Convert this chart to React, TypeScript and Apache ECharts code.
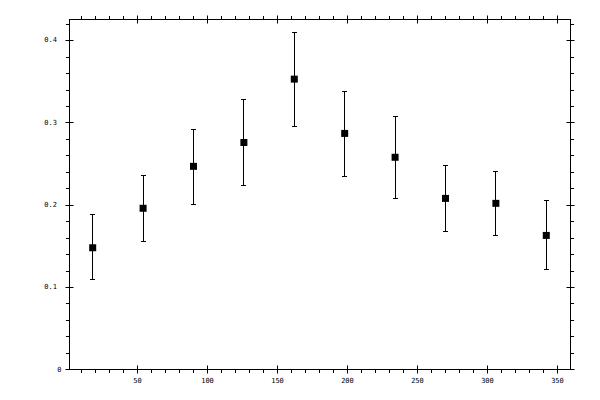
import { useEffect, useRef } from "react";
import * as echarts from "echarts";

const xValues = [18, 54, 90, 126, 162, 198, 234, 270, 306, 342];
const yValues = [0.148, 0.196, 0.247, 0.276, 0.353, 0.287, 0.258, 0.208, 0.202, 0.163];
const yLow = [0.109, 0.156, 0.201, 0.224, 0.296, 0.235, 0.208, 0.168, 0.163, 0.121];
const yHigh = [0.189, 0.236, 0.292, 0.328, 0.41, 0.338, 0.308, 0.248, 0.241, 0.206];

const xTickValues = [50, 100, 150, 200, 250, 300, 350];
const yTickValues = [0, 0.1, 0.2, 0.3, 0.4];

const X_MIN = 1.43;
const X_MAX = 359.3;
const Y_MIN = 0;
const Y_MAX = 0.4255;

const INK = "#000000";
const FONT = "DejaVu Sans Mono";
const CAP = 2.5;

const line = { color: INK, width: 1 };

// one axis = outer ticks + minor ticks (grid 0), the other half of the major
// ticks points inward (grid 1) so the major ticks cross the frame
function xAxisOf(gridIndex: number, position: "top" | "bottom", inner: boolean, labels: boolean) {
  return {
    type: "value",
    gridIndex,
    position,
    min: X_MIN,
    max: X_MAX,
    splitNumber: 7,
    axisLine: { show: !inner, onZero: false, lineStyle: line },
    axisTick: { show: true, inside: inner, length: 4, customValues: xTickValues, lineStyle: line },
    minorTick: { show: !inner, splitNumber: 5, length: 3.5, lineStyle: line },
    axisLabel: {
      show: labels,
      customValues: xTickValues,
      margin: 8,
      fontFamily: FONT,
      fontSize: 7,
      color: INK,
    },
    splitLine: { show: false },
    minorSplitLine: { show: false },
  };
}

function yAxisOf(gridIndex: number, position: "left" | "right", inner: boolean, labels: boolean) {
  return {
    type: "value",
    gridIndex,
    position,
    min: Y_MIN,
    max: Y_MAX,
    splitNumber: 4,
    axisLine: { show: !inner, onZero: false, lineStyle: line },
    axisTick: { show: true, inside: inner, length: 4, customValues: yTickValues, lineStyle: line },
    minorTick: { show: !inner, splitNumber: 5, length: 3.5, lineStyle: line },
    axisLabel: {
      show: labels,
      customValues: yTickValues,
      margin: 8,
      fontFamily: FONT,
      fontSize: 7,
      color: INK,
      // "0" sits a bit further right than the decimal labels in the original
      formatter: (v: number) => (v === 0 ? "{z|0}" : `{n|${v}}`),
      rich: {
        z: { fontFamily: FONT, fontSize: 7, color: INK },
        n: { fontFamily: FONT, fontSize: 7, color: INK, padding: [0, 4.5, 0, 0] },
      },
    },
    splitLine: { show: false },
    minorSplitLine: { show: false },
  };
}

const crisp = (v: number) => Math.round(v - 0.5) + 0.5;

function buildOption(): echarts.EChartsOption {
  const gridBox = { left: 69.5, right: 29.5, top: 19.5, bottom: 30.5, outerBoundsMode: "none" };
  return {
    animation: false,
    backgroundColor: "#ffffff",
    grid: [gridBox, gridBox],
    xAxis: [
      xAxisOf(0, "bottom", false, true),
      xAxisOf(0, "top", false, false),
      xAxisOf(1, "bottom", true, false),
      xAxisOf(1, "top", true, false),
    ],
    yAxis: [
      yAxisOf(0, "left", false, true),
      yAxisOf(0, "right", false, false),
      yAxisOf(1, "left", true, false),
      yAxisOf(1, "right", true, false),
    ],
    series: [
      {
        type: "custom",
        xAxisIndex: 0,
        yAxisIndex: 0,
        encode: { x: 0, y: [1, 2] },
        data: xValues.map((x, i) => [x, yLow[i], yHigh[i]]),
        renderItem: (_params: unknown, api: any) => {
          const x = api.value(0);
          const top = api.coord([x, api.value(2)]);
          const bot = api.coord([x, api.value(1)]);
          const cx = crisp(top[0]);
          const yt = crisp(top[1]);
          const yb = crisp(bot[1]);
          const style = { stroke: INK, lineWidth: 1, fill: "none" };
          return {
            type: "group",
            children: [
              { type: "line", shape: { x1: cx, y1: yt, x2: cx, y2: yb }, style },
              { type: "line", shape: { x1: cx - CAP, y1: yt, x2: cx + CAP, y2: yt }, style },
              { type: "line", shape: { x1: cx - CAP, y1: yb, x2: cx + CAP, y2: yb }, style },
            ],
          };
        },
        z: 1,
      },
      {
        type: "scatter",
        xAxisIndex: 0,
        yAxisIndex: 0,
        symbol: "rect",
        symbolSize: 7,
        itemStyle: { color: INK, opacity: 1 },
        data: xValues.map((x, i) => [x, yValues[i]]),
        z: 2,
      },
    ],
  } as echarts.EChartsOption;
}

export default function App() {
  const containerRef = useRef<HTMLDivElement | null>(null);

  useEffect(() => {
    document.body.style.margin = "0";
    const el = containerRef.current;
    if (!el) return;
    const chart = echarts.init(el, undefined, { renderer: "svg" });
    chart.setOption(buildOption());
    return () => {
      chart.dispose();
    };
  }, []);

  return <div ref={containerRef} style={{ width: 600, height: 400, background: "#fff" }} />;
}
